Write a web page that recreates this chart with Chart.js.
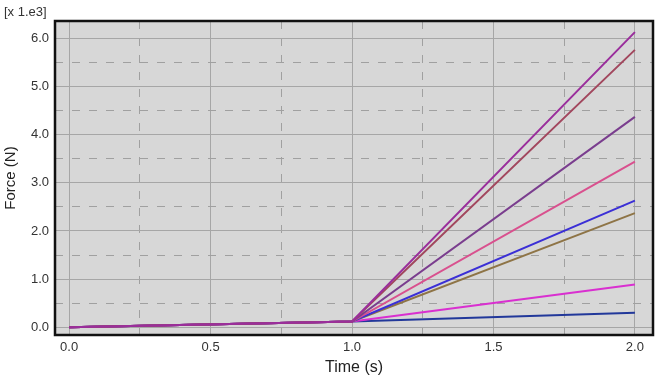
<!DOCTYPE html>
<html>
<head>
<meta charset="utf-8">
<script src="https://cdn.jsdelivr.net/npm/chart.js@4/dist/chart.umd.min.js"></script>
<style>
  html, body { margin: 0; padding: 0; background: #fff; }
  #wrap { width: 668px; height: 383px; }
</style>
</head>
<body>
<div id="wrap"><canvas id="chart" width="668" height="383"></canvas></div>
<script>
// Temps (s) des points de chaque courbe
const times = [0.0, 1.0, 2.0];

// Efforts en kN (axe en [x 1.e3] N)
const force1 = [0.0, 0.12, 6.13];
const force2 = [0.0, 0.12, 5.76];
const force3 = [0.0, 0.12, 4.37];
const force4 = [0.0, 0.12, 3.44];
const force5 = [0.0, 0.12, 2.63];
const force6 = [0.0, 0.12, 2.37];
const force7 = [0.0, 0.12, 0.89];
const force8 = [0.0, 0.12, 0.30];

const seriesColors = ['#9a2e9c', '#a2475e', '#7a3d8e', '#d9508e', '#3b2fd6', '#8e7446', '#d92fd0', '#22389a'];

const xTicks = [0, 0.25, 0.5, 0.75, 1.0, 1.25, 1.5, 1.75, 2.0];
const yTicks = [0, 0.5, 1, 1.5, 2, 2.5, 3, 3.5, 4, 4.5, 5, 5.5, 6];

const FONT = '"Liberation Sans", Arial, sans-serif';

// Fond gris + cadre noir + étiquette d'échelle
const framePlugin = {
  id: 'frame',
  beforeDraw(chart) {
    const { ctx, chartArea: a } = chart;
    ctx.save();
    ctx.fillStyle = '#d7d7d7';
    ctx.fillRect(a.left, a.top, a.right - a.left, a.bottom - a.top);
    ctx.restore();
  },
  afterDraw(chart) {
    const { ctx, chartArea: a } = chart;
    ctx.save();
    ctx.strokeStyle = '#111';
    ctx.lineWidth = 2.5;
    ctx.strokeRect(a.left, a.top, a.right - a.left, a.bottom - a.top);
    ctx.fillStyle = '#333';
    ctx.font = '13px ' + FONT;
    ctx.textBaseline = 'middle';
    ctx.fillText('[x 1.e3]', 4, 12);
    ctx.restore();
  }
};

const isMajor = (v, step) => Math.abs(v / step - Math.round(v / step)) < 1e-6;

const toPoints = (ys) => times.map((t, i) => ({ x: t, y: ys[i] }));
const allSeries = [force1, force2, force3, force4, force5, force6, force7, force8];

new Chart(document.getElementById('chart'), {
  type: 'line',
  data: {
    datasets: allSeries.map((ys, i) => ({
      data: toPoints(ys),
      borderColor: seriesColors[i],
      borderWidth: 2,
      pointRadius: 0,
      tension: 0,
      fill: false,
    })),
  },
  options: {
    responsive: false,
    animation: false,
    layout: { padding: { top: 21, right: 15, left: 0, bottom: 0 } },
    plugins: { legend: { display: false }, tooltip: { enabled: false } },
    scales: {
      x: {
        type: 'linear',
        min: -0.05,
        max: 2.064,
        afterBuildTicks: (s) => { s.ticks = xTicks.map(v => ({ value: v })); },
        afterFit: (s) => { s.height = 48; },
        grid: {
          color: (c) => isMajor(c.tick.value, 0.5) ? '#a6a6a6' : '#a0a0a0',
          lineWidth: 1,
          drawTicks: false,
        },
        border: {
          display: false,
          dash: (c) => (c.tick && isMajor(c.tick.value, 0.5)) ? [] : [8, 9],
        },
        ticks: {
          padding: 5,
          color: '#333',
          font: { family: FONT, size: 13 },
          maxRotation: 0,
          autoSkip: false,
          callback: (v) => isMajor(v, 0.5) ? v.toFixed(1) : '',
        },
        title: {
          display: true,
          text: 'Time (s)',
          color: '#222',
          font: { family: FONT, size: 16 },
          padding: { top: 0, bottom: 6 },
        },
      },
      y: {
        type: 'linear',
        min: -0.16,
        max: 6.36,
        afterBuildTicks: (s) => { s.ticks = yTicks.map(v => ({ value: v })); },
        afterFit: (s) => { s.width = 55; },
        grid: {
          color: (c) => isMajor(c.tick.value, 1) ? '#a6a6a6' : '#a0a0a0',
          lineWidth: 1,
          drawTicks: false,
        },
        border: {
          display: false,
          dash: (c) => (c.tick && isMajor(c.tick.value, 1)) ? [] : [8, 9],
        },
        ticks: {
          padding: 6,
          color: '#333',
          font: { family: FONT, size: 13 },
          autoSkip: false,
          callback: (v) => isMajor(v, 1) ? v.toFixed(1) : '',
        },
        title: {
          display: true,
          text: 'Force (N)',
          color: '#222',
          font: { family: FONT, size: 15 },
          padding: { top: 2, bottom: 2 },
        },
      },
    },
  },
  plugins: [framePlugin],
});
</script>
</body>
</html>
